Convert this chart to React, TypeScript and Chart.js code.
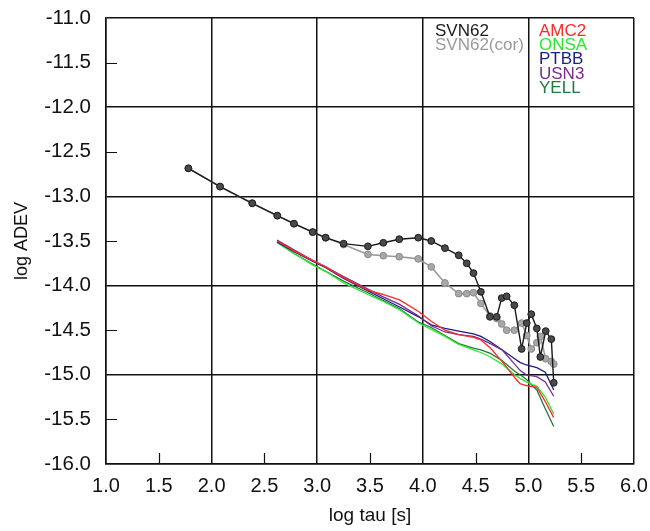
import React, { useEffect, useRef } from "react";
import { Chart, registerables } from "chart.js";

Chart.register(...registerables);

// SVN62 (raw)
const svnX = [1.78, 2.08, 2.385, 2.622, 2.78, 2.957, 3.08, 3.25, 3.48, 3.626, 3.777, 3.957, 4.08, 4.21, 4.34, 4.416, 4.48, 4.55, 4.636, 4.7, 4.747, 4.794, 4.867, 4.936, 4.984, 5.027, 5.08, 5.113, 5.164, 5.217, 5.24];
const svnY = [-12.685, -12.89, -13.077, -13.216, -13.306, -13.4, -13.463, -13.53, -13.56, -13.52, -13.48, -13.463, -13.5, -13.58, -13.66, -13.75, -13.86, -14.07, -14.35, -14.35, -14.14, -14.12, -14.22, -14.71, -14.42, -14.32, -14.48, -14.8, -14.51, -14.6, -15.09];
// SVN62 (corrected)
const corY = [-12.685, -12.89, -13.077, -13.216, -13.306, -13.4, -13.463, -13.54, -13.65, -13.665, -13.676, -13.7, -13.79, -13.97, -14.09, -14.09, -14.08, -14.2, -14.34, -14.37, -14.43, -14.5, -14.5, -14.42, -14.56, -14.71, -14.64, -14.57, -14.82, -14.85, -14.88];

// Station curves (shared log tau values)
const stX = [2.62, 2.78, 2.96, 3.08, 3.25, 3.48, 3.63, 3.78, 3.96, 4.08, 4.21, 4.34, 4.48, 4.55, 4.64, 4.75, 4.87, 4.92, 4.98, 5.08, 5.16, 5.24];
const amc2 = [-13.5, -13.61, -13.72, -13.79, -13.91, -14.05, -14.1, -14.16, -14.29, -14.4, -14.5, -14.55, -14.58, -14.61, -14.7, -14.85, -15.03, -15.1, -15.12, -15.14, -15.3, -15.48];
const onsa = [-13.52, -13.64, -13.77, -13.84, -13.97, -14.1, -14.18, -14.27, -14.42, -14.49, -14.57, -14.66, -14.72, -14.75, -14.8, -14.88, -15.0, -15.04, -15.08, -15.13, -15.25, -15.44];
const ptbb = [-13.51, -13.62, -13.73, -13.8, -13.92, -14.06, -14.15, -14.24, -14.35, -14.44, -14.48, -14.51, -14.54, -14.57, -14.63, -14.72, -14.82, -14.86, -14.89, -14.92, -14.97, -15.17];
const usn3 = [-13.49, -13.6, -13.72, -13.79, -13.9, -14.04, -14.13, -14.21, -14.34, -14.45, -14.52, -14.55, -14.57, -14.6, -14.65, -14.72, -14.88, -14.95, -15.0, -15.02, -15.08, -15.24];
const yell = [-13.51, -13.64, -13.76, -13.84, -13.95, -14.08, -14.17, -14.26, -14.41, -14.47, -14.56, -14.65, -14.7, -14.72, -14.76, -14.84, -14.96, -15.0, -15.05, -15.17, -15.38, -15.58];

const legendLeft = ["SVN62", "SVN62(cor)"];
const legendLeftColors = ["#1a1a1a", "#9a9a9a"];
const legendRight = ["AMC2", "ONSA", "PTBB", "USN3", "YELL"];
const legendRightColors = ["#ff2a2a", "#2ee82e", "#1c1c8a", "#7a2a8c", "#1f7a3c"];

const xTitle = "log tau [s]";
const yTitle = "log ADEV";

const FONT = "'Liberation Sans', Arial, sans-serif";

const pts = (xs: number[], ys: number[]) => xs.map((x, i) => ({ x, y: ys[i] }));

const overlay = {
  id: "overlay",
  afterDraw(chart: any) {
    const { ctx, chartArea, scales } = chart;
    const xs = scales.x;
    const ys = scales.y;
    ctx.save();
    // minor ticks
    ctx.strokeStyle = "#111";
    ctx.lineWidth = 1.2;
    ctx.beginPath();
    for (let v = 1.5; v < 6; v += 1) {
      const px = Math.round(xs.getPixelForValue(v)) + 0.5;
      ctx.moveTo(px, chartArea.bottom);
      ctx.lineTo(px, chartArea.bottom - 11);
    }
    for (let v = -11.5; v > -16; v -= 1) {
      const py = Math.round(ys.getPixelForValue(v)) + 0.5;
      ctx.moveTo(chartArea.left, py);
      ctx.lineTo(chartArea.left + 11, py);
    }
    ctx.stroke();
    // legend texts
    ctx.font = `17px ${FONT}`;
    ctx.textAlign = "left";
    ctx.textBaseline = "alphabetic";
    legendLeft.forEach((t, i) => {
      ctx.fillStyle = legendLeftColors[i];
      ctx.fillText(t, 435, 36 + i * 14);
    });
    legendRight.forEach((t, i) => {
      ctx.fillStyle = legendRightColors[i];
      ctx.fillText(t, 539, 36 + i * 14.2);
    });
    // axis titles
    ctx.fillStyle = "#111";
    ctx.font = `19px ${FONT}`;
    ctx.textAlign = "center";
    ctx.textBaseline = "middle";
    ctx.fillText(xTitle, (chartArea.left + chartArea.right) / 2, 516);
    ctx.save();
    ctx.translate(22, (chartArea.top + chartArea.bottom) / 2);
    ctx.rotate(-Math.PI / 2);
    ctx.font = `18px ${FONT}`;
    ctx.fillText(yTitle, 0, 0);
    ctx.restore();
    ctx.restore();
  },
};

export default function App() {
  const ref = useRef<HTMLCanvasElement>(null);
  useEffect(() => {
    if (!ref.current) return;
    const lineDs = (label: string, ys: number[], color: string) => ({
      label,
      data: pts(stX, ys),
      borderColor: color,
      backgroundColor: color,
      borderWidth: 1.3,
      pointRadius: 0,
      showLine: true,
      tension: 0,
    });
    const chart = new Chart(ref.current, {
      type: "scatter",
      data: {
        datasets: [
          {
            label: "SVN62",
            data: pts(svnX, svnY),
            borderColor: "#1a1a1a",
            backgroundColor: "#4a4a4a",
            pointBorderColor: "#1a1a1a",
            pointBorderWidth: 1,
            pointRadius: 3.4,
            pointStyle: "circle",
            borderWidth: 1.4,
            showLine: true,
          },
          {
            label: "SVN62(cor)",
            data: pts(svnX, corY),
            borderColor: "#9a9a9a",
            backgroundColor: "#a8a8a8",
            pointBorderColor: "#8a8a8a",
            pointBorderWidth: 1,
            pointRadius: 3.4,
            borderWidth: 1.6,
            showLine: true,
          },
          lineDs("AMC2", amc2, legendRightColors[0]),
          lineDs("USN3", usn3, legendRightColors[3]),
          lineDs("PTBB", ptbb, legendRightColors[2]),
          lineDs("ONSA", onsa, legendRightColors[1]),
          lineDs("YELL", yell, legendRightColors[4]),
        ],
      },
      options: {
        responsive: false,
        animation: false,
        layout: { padding: { top: 18, right: 16, left: 0, bottom: 0 } },
        plugins: { legend: { display: false }, tooltip: { enabled: false } },
        scales: {
          x: {
            type: "linear",
            min: 1,
            max: 6,
            afterFit: (s: any) => {
              s.height = 67;
              s.paddingLeft = 0;
              s.paddingRight = 0;
            },
            ticks: {
              stepSize: 0.5,
              padding: 10,
              color: "#111",
              font: { size: 20, family: FONT },
              callback: (v: any) => Number(v).toFixed(1),
            },
            grid: {
              drawTicks: false,
              lineWidth: 1.5,
              color: (c: any) => (Math.abs(c.tick.value - Math.round(c.tick.value)) < 1e-6 ? "#111" : "rgba(0,0,0,0)"),
            },
            border: { display: true, color: "#111", width: 1.5 },
          },
          y: {
            type: "linear",
            min: -16,
            max: -11,
            afterFit: (s: any) => {
              s.width = 106;
              s.paddingTop = 0;
              s.paddingBottom = 0;
            },
            ticks: {
              stepSize: 0.5,
              padding: 15,
              color: "#111",
              font: { size: 20.5, family: FONT },
              callback: (v: any) => Number(v).toFixed(1),
            },
            grid: {
              drawTicks: false,
              lineWidth: 1.5,
              color: (c: any) => (Math.abs(c.tick.value - Math.round(c.tick.value)) < 1e-6 ? "#111" : "rgba(0,0,0,0)"),
            },
            border: { display: true, color: "#111", width: 1.5 },
          },
        },
      },
      plugins: [overlay],
    });
    return () => chart.destroy();
  }, []);
  return (
    <div style={{ position: "fixed", left: 0, top: 0, width: 650, height: 531, background: "#fff" }}>
      <canvas ref={ref} width={650} height={531} style={{ display: "block" }} />
    </div>
  );
}
